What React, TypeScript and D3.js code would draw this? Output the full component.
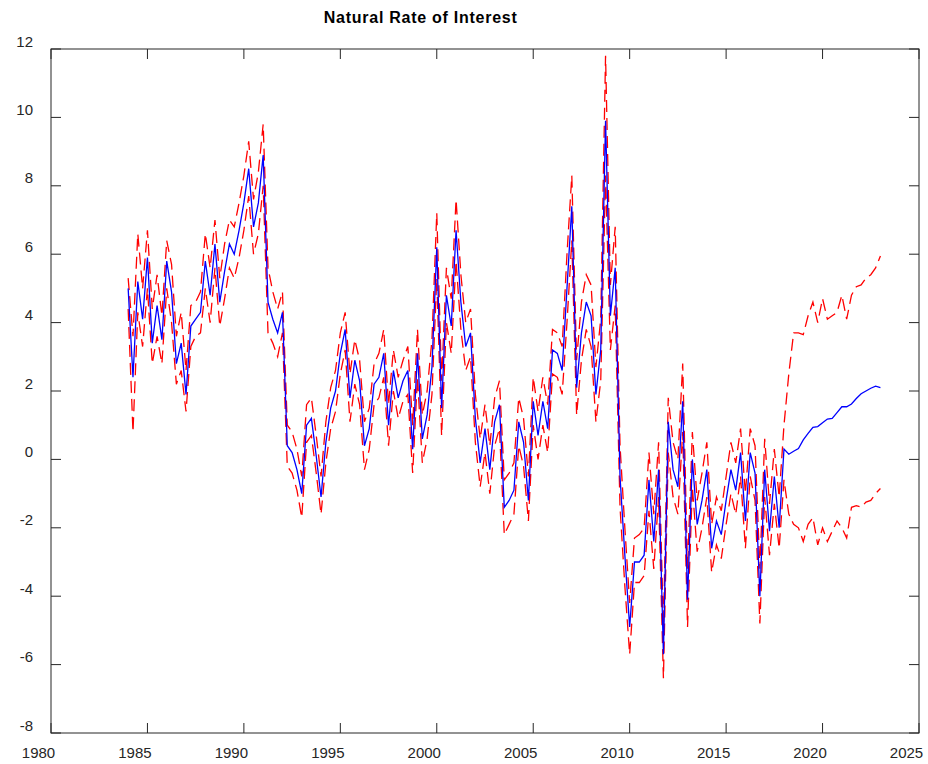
import React from 'react';
import * as d3 from 'd3';

// Quarterly observations starting 1984Q1
const startYear = 1984;

const naturalRate = [
  5.0, 2.4, 5.2, 4.1, 5.9, 3.4, 4.5, 3.5, 5.8, 4.9,
  2.8, 3.4, 1.9, 3.9, 4.1, 4.3, 5.8, 4.8, 6.3, 4.6,
  5.5, 6.3, 6.0, 6.7, 7.5, 8.5, 6.8, 7.5, 8.9, 4.6,
  4.1, 3.7, 4.3, 0.4, 0.2, -0.3, -1.0, 1.0, 1.2, 0.1,
  -1.1, 0.5, 1.5, 2.0, 3.1, 3.8, 1.8, 2.9, 2.3, 0.4,
  0.9, 2.2, 2.4, 3.1, 1.0, 2.6, 1.8, 2.3, 2.6, 0.3,
  3.1, 0.6, 1.3, 2.7, 6.2, 1.5, 4.8, 3.9, 6.7, 4.6,
  3.3, 3.7, 1.2, -0.1, 0.9, -0.3, 1.1, 1.6, -1.4, -1.2,
  -0.9, 1.1, 0.5, -1.2, 1.7, 0.7, 1.7, 0.9, 3.2, 3.1,
  2.6, 5.0, 7.4, 2.1, 3.7, 4.6, 4.2, 1.9, 3.2, 9.9,
  4.2, 5.6, -0.5, -2.8, -4.9, -3.0, -3.0, -2.8, -0.6, -2.4,
  -0.3, -5.7, 1.1, -0.3, -0.8, 1.7, -4.1, 0.0, -1.9, -1.2,
  -0.3, -2.6, -1.8, -2.2, -1.2, -0.3, -0.9, 0.2, -1.8, 0.2,
  -0.4, -4.0, -0.3, -2.1, -0.5, -2.0, 0.3, 0.15, 0.24, 0.32,
  0.57, 0.76, 0.94, 0.96, 1.07, 1.18, 1.2, 1.37, 1.54, 1.54,
  1.62, 1.78, 1.92, 2.0, 2.08, 2.14, 2.1,
];

const upperBand = [
  5.3, 3.6, 6.6, 5.0, 6.7, 4.4, 5.4, 4.2, 6.4, 5.7,
  3.6, 4.3, 2.6, 4.5, 4.6, 4.9, 6.6, 5.6, 7.0, 5.3,
  6.3, 7.0, 6.8, 7.5, 8.3, 9.3, 7.6, 8.4, 9.8, 5.6,
  4.9, 4.4, 4.9, 1.0, 0.8, 0.3, -0.5, 1.6, 1.8, 0.7,
  -0.5, 1.1, 2.1, 2.6, 3.7, 4.3, 2.5, 3.5, 2.9, 1.1,
  1.5, 2.8, 3.1, 3.8, 1.6, 3.2, 2.4, 2.9, 3.3, 1.0,
  3.8, 1.3, 2.0, 3.5, 7.2, 2.3, 5.6, 4.7, 7.6, 5.4,
  4.0, 4.4, 1.9, 0.6, 1.6, 0.4, 1.8, 2.3, -0.6, -0.4,
  -0.1, 1.8, 1.2, -0.5, 2.4, 1.4, 2.4, 1.6, 3.8, 3.7,
  3.3, 6.0, 8.3, 2.9, 4.6, 5.4, 5.1, 2.7, 4.1, 11.8,
  5.1, 6.8, 0.4, -2.0, -4.2, -2.3, -2.2, -2.0, 0.2, -1.6,
  0.5, -4.9, 1.8, 0.5, 0.0, 2.8, -3.2, 0.8, -1.2, -0.4,
  0.5, -1.9, -1.1, -1.5, -0.5, 0.5, -0.1, 0.9, -1.0, 0.9,
  0.4, -3.2, 0.6, -1.3, 0.3, -1.1, 1.0, 2.5, 3.7, 3.7,
  3.65, 4.2, 4.6, 4.0, 4.7, 4.1, 4.2, 4.3, 4.8, 4.1,
  4.8, 5.05, 5.1, 5.3, 5.4, 5.6, 5.95,
];

const lowerBand = [
  4.4, 0.8, 4.3, 3.3, 5.0, 2.8, 3.6, 2.8, 5.0, 4.0,
  2.2, 2.6, 1.4, 3.3, 3.6, 3.7, 5.0, 4.0, 5.6, 3.9,
  4.7, 5.6, 5.3, 5.9, 6.7, 7.7, 6.0, 6.6, 8.0, 3.7,
  3.4, 3.0, 3.7, -0.2, -0.4, -0.9, -1.7, 0.5, 0.7, -0.4,
  -1.6, -0.1, 0.9, 1.4, 2.5, 3.2, 1.1, 2.2, 1.6, -0.3,
  0.3, 1.6, 1.8, 2.4, 0.4, 2.0, 1.2, 1.7, 1.9, -0.4,
  2.4, -0.1, 0.6, 1.9, 5.3, 0.7, 4.0, 3.1, 5.8, 3.8,
  2.6, 3.0, 0.5, -0.8, 0.2, -1.0, 0.4, 0.9, -2.2, -1.9,
  -1.6, 0.4, -0.2, -1.8, 1.0, 0.0, 1.0, 0.2, 2.5, 2.4,
  1.9, 4.0, 6.4, 1.3, 2.9, 3.8, 3.3, 1.1, 2.3, 8.3,
  3.2, 4.5, -1.4, -3.7, -5.7, -3.6, -3.6, -3.4, -1.5, -3.2,
  -1.1, -6.4, 0.2, -1.1, -1.6, 0.8, -4.9, -0.8, -2.7, -2.0,
  -1.1, -3.3, -2.5, -2.9, -1.9, -1.0, -1.6, -0.5, -2.6, -0.5,
  -1.2, -4.8, -1.1, -2.8, -1.3, -2.6, -0.6, -1.6, -1.9, -2.0,
  -2.4, -1.9, -1.7, -2.5, -2.0, -2.4, -2.1, -1.8, -2.0, -2.3,
  -1.4, -1.35, -1.4, -1.25, -1.2, -1.0, -0.85,
];

const xTickValues = [1980, 1985, 1990, 1995, 2000, 2005, 2010, 2015, 2020, 2025];
const yTickValues = [-8, -6, -4, -2, 0, 2, 4, 6, 8, 10, 12];
const titleText = 'Natural Rate of Interest';

const W = 928;
const H = 764;
const L = 51, R = 919, T = 49, B = 733;
const axisColor = '#262626';
const font = "'Liberation Sans', Arial, Helvetica, sans-serif";

export default function App() {
  const x = d3.scaleLinear().domain([1980, 2025]).range([L, R]);
  const y = d3.scaleLinear().domain([-8, 12]).range([B, T]);
  const dateOf = (i: number) => startYear + i / 4;

  const line = d3
    .line<number>()
    .x((_, i) => x(dateOf(i)))
    .y((d) => y(d));

  const tickLen = 10;

  return (
    <svg
      width={W}
      height={H}
      style={{ position: 'absolute', left: 0, top: 0, background: '#fff' }}
      fontFamily={font}
    >
      <rect x={0} y={0} width={W} height={H} fill="#ffffff" />
      <text
        x={420.3}
        y={22.5}
        textAnchor="middle"
        fontWeight="bold"
        fontSize={16}
        textLength={193}
        lengthAdjust="spacing"
        fill="#000"
      >
        {titleText}
      </text>

      {/* data */}
      <path d={line(upperBand) || ''} fill="none" stroke="#ff0000" strokeWidth={1.3} strokeDasharray="12,6" />
      <path d={line(lowerBand) || ''} fill="none" stroke="#ff0000" strokeWidth={1.3} strokeDasharray="12,6" />
      <path d={line(naturalRate) || ''} fill="none" stroke="#0000ff" strokeWidth={1.3} />

      {/* axes box */}
      <rect x={L} y={T} width={R - L} height={B - T} fill="none" stroke={axisColor} strokeWidth={1} />

      {xTickValues.map((v) => (
        <g key={'x' + v}>
          <line x1={x(v)} x2={x(v)} y1={B} y2={B - tickLen} stroke={axisColor} strokeWidth={1} />
          <line x1={x(v)} x2={x(v)} y1={T} y2={T + tickLen} stroke={axisColor} strokeWidth={1} />
          <text x={x(v) - 12.5} y={758} textAnchor="middle" fontSize={15} fill={axisColor}>
            {v}
          </text>
        </g>
      ))}

      {yTickValues.map((v) => (
        <g key={'y' + v}>
          <line x1={L} x2={L + tickLen} y1={y(v)} y2={y(v)} stroke={axisColor} strokeWidth={1} />
          <line x1={R} x2={R - tickLen} y1={y(v)} y2={y(v)} stroke={axisColor} strokeWidth={1} />
          <text x={33} y={y(v) - 2.5} textAnchor="end" fontSize={15} fill={axisColor}>
            {v}
          </text>
        </g>
      ))}
    </svg>
  );
}
